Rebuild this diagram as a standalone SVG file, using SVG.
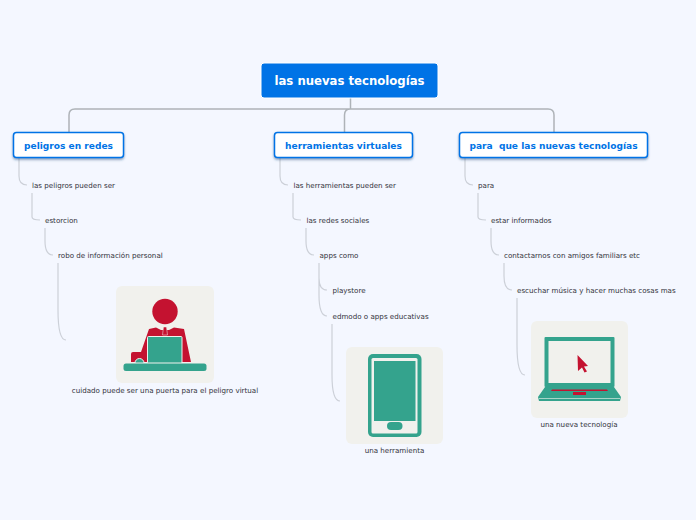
<svg xmlns="http://www.w3.org/2000/svg" width="696" height="520" viewBox="0 0 696 520">
<defs>
<style>
text{font-family:"DejaVu Sans",Verdana,sans-serif}
.t{font-size:7.14px;fill:#33333c}
.h{font-size:9.07px;font-weight:700;fill:#0073e6;text-anchor:middle}
.r{font-size:11.7px;font-weight:700;fill:#fff;text-anchor:middle}
.box{fill:#fff;stroke:#0073e6;stroke-width:1.5}
.main{fill:none;stroke:#aeb3b8;stroke-width:1.5}
.sub{fill:none;stroke:#ccd0d8;stroke-width:1.2}
.card{fill:#f1f1ed}
.g{fill:#34a38d}
.c{fill:#c41230}
</style>
<filter id="s" x="-10%" y="-20%" width="120%" height="150%"><feDropShadow dx="0" dy="1.5" stdDeviation="1" flood-color="#1a4f80" flood-opacity=".55"/></filter>
</defs>
<rect width="696" height="520" fill="#f4f7ff"/>
<g id="connectors">
<path class="main" d="M69 132V115Q69 109 75 109H548Q554 109 554 115V132M344.500 132V115Q344.500 109 350.500 109V97"/>
<path class="sub" d="M19 158V176Q19 185 27 185M32 193V217Q32 220 40 220M45 228V241Q45 255 53 255M58 263V310Q58 340 66 340"/>
<path class="sub" d="M280 158V176Q280 185 288 185M293 193V217Q293 220 301 220M306 228V241Q306 255 314 255M319 263V278Q319 290 327 290M319 263V295Q319 316 327 316M332 324V375Q332 401 340 401"/>
<path class="sub" d="M465 158V176Q465 185 473 185M478 193V217Q478 220 486 220M491 228V241Q491 255 499 255M504 263V276Q504 290 512 290M517 298V345Q517 375 525 375"/>
</g>
<g id="root"><rect x="261" y="63" width="177" height="35" rx="3" fill="#0073e6" stroke="#fff" stroke-width="1"/><text class="r" x="349.500" y="85">las nuevas tecnologías</text></g>
<g id="n1"><rect class="box" x="13.500" y="132.500" width="110" height="25" rx="3" filter="url(#s)"/><text class="h" x="68.500" y="149">peligros en redes</text></g>
<g id="n2"><rect class="box" x="274.500" y="132.500" width="138" height="25" rx="3" filter="url(#s)"/><text class="h" x="343.500" y="149">herramientas virtuales</text></g>
<g id="n3"><rect class="box" x="459.500" y="132.500" width="188" height="25" rx="3" filter="url(#s)"/><text class="h" x="553.500" y="149" xml:space="preserve">para  que las nuevas tecnologías</text></g>
<g id="a1"><text class="t" x="32" y="188">las peligros pueden ser</text></g>
<g id="a2"><text class="t" x="45" y="223">estorcion</text></g>
<g id="a3"><text class="t" x="58" y="258">robo de información personal</text></g>
<g id="a4">
<rect class="card" x="116" y="286" width="98" height="97" rx="6"/>
<circle class="c" cx="165" cy="311.500" r="12.700"/>
<path class="c" d="M149 329L156 327.500L161 330H169L174 327.500L184 329L191 362H131V354Q131 352 133 352H141Z"/>
<path class="c" d="M163.500 327H166.500L167.500 335H162.500Z" stroke="#f1f1ed" stroke-width=".5"/>
<rect class="g" x="147.500" y="336.500" width="34.500" height="26.500" rx="1" stroke="#f1f1ed" stroke-width="1"/>
<path class="g" d="M135 363a4.500 4.500 0 0 1 9 0Z" stroke="#f1f1ed" stroke-width="1"/>
<rect class="g" x="123.500" y="363.500" width="83" height="7.500" rx="2.500"/>
<text class="t" x="165" y="393" text-anchor="middle">cuidado puede ser una puerta para el peligro virtual</text>
</g>
<g id="b1"><text class="t" x="293.500" y="188">las herramientas pueden ser</text></g>
<g id="b2"><text class="t" x="306.500" y="223">las redes sociales</text></g>
<g id="b3"><text class="t" x="319.500" y="258">apps como</text></g>
<g id="b4"><text class="t" x="332.500" y="293">playstore</text></g>
<g id="b5"><text class="t" x="332.500" y="319">edmodo o apps educativas</text></g>
<g id="b6">
<rect class="card" x="346" y="347" width="97" height="97" rx="6"/>
<rect class="g" x="368" y="354" width="53.500" height="83" rx="5"/>
<rect x="371.500" y="358" width="46" height="75.500" rx="1.500" fill="#f1f1ed"/>
<rect class="g" x="374" y="361" width="41.500" height="60"/>
<rect class="g" x="387" y="422" width="15.500" height="8" rx="4"/>
<text class="t" x="394.500" y="453" text-anchor="middle">una herramienta</text>
</g>
<g id="c1"><text class="t" x="478" y="188">para</text></g>
<g id="c2"><text class="t" x="491" y="223">estar informados</text></g>
<g id="c3"><text class="t" x="504" y="258">contactarnos con amigos familiars etc</text></g>
<g id="c4"><text class="t" x="517" y="293">escuchar música y hacer muchas cosas mas</text></g>
<g id="c5">
<rect class="card" x="531" y="321" width="97" height="97" rx="6"/>
<rect class="g" x="544.500" y="337" width="70" height="50" rx="1"/>
<rect x="548.500" y="341" width="62" height="42" fill="#f1f1ed"/>
<path class="g" d="M545 387H614L621 397L620 401H539L538 397Z"/>
<path class="c" d="M552 389.500H607L608 391H551Z"/>
<rect class="c" x="573" y="392" width="13" height="3"/>
<rect x="539" y="398" width="81" height=".8" fill="#c4e0d8"/>
<path class="c" d="M577.500 355L588 366L584 366.500L587 371.500L584.500 372.500L582 367.500L578 371Z"/>
<text class="t" x="579" y="427" text-anchor="middle">una nueva tecnología</text>
</g>
</svg>
